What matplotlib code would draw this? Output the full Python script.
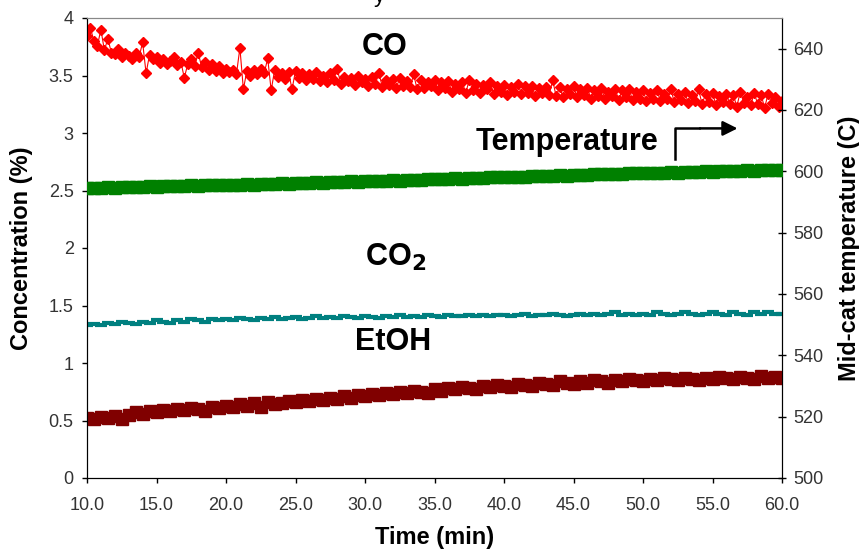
import matplotlib
matplotlib.use("Agg")
import matplotlib.pyplot as plt

plt.rcParams['font.family'] = ['Liberation Sans', 'DejaVu Sans']

# CO sampled every 0.25 min
time_co = [10.0, 10.25, 10.5, 10.75, 11.0, 11.25, 11.5, 11.75, 12.0, 12.25, 12.5, 12.75,
           13.0, 13.25, 13.5, 13.75, 14.0, 14.25, 14.5, 14.75, 15.0, 15.25, 15.5, 15.75,
           16.0, 16.25, 16.5, 16.75, 17.0, 17.25, 17.5, 17.75, 18.0, 18.25, 18.5, 18.75,
           19.0, 19.25, 19.5, 19.75, 20.0, 20.25, 20.5, 20.75, 21.0, 21.25, 21.5, 21.75,
           22.0, 22.25, 22.5, 22.75, 23.0, 23.25, 23.5, 23.75, 24.0, 24.25, 24.5, 24.75,
           25.0, 25.25, 25.5, 25.75, 26.0, 26.25, 26.5, 26.75, 27.0, 27.25, 27.5, 27.75,
           28.0, 28.25, 28.5, 28.75, 29.0, 29.25, 29.5, 29.75, 30.0, 30.25, 30.5, 30.75,
           31.0, 31.25, 31.5, 31.75, 32.0, 32.25, 32.5, 32.75, 33.0, 33.25, 33.5, 33.75,
           34.0, 34.25, 34.5, 34.75, 35.0, 35.25, 35.5, 35.75, 36.0, 36.25, 36.5, 36.75,
           37.0, 37.25, 37.5, 37.75, 38.0, 38.25, 38.5, 38.75, 39.0, 39.25, 39.5, 39.75,
           40.0, 40.25, 40.5, 40.75, 41.0, 41.25, 41.5, 41.75, 42.0, 42.25, 42.5, 42.75,
           43.0, 43.25, 43.5, 43.75, 44.0, 44.25, 44.5, 44.75, 45.0, 45.25, 45.5, 45.75,
           46.0, 46.25, 46.5, 46.75, 47.0, 47.25, 47.5, 47.75, 48.0, 48.25, 48.5, 48.75,
           49.0, 49.25, 49.5, 49.75, 50.0, 50.25, 50.5, 50.75, 51.0, 51.25, 51.5, 51.75,
           52.0, 52.25, 52.5, 52.75, 53.0, 53.25, 53.5, 53.75, 54.0, 54.25, 54.5, 54.75,
           55.0, 55.25, 55.5, 55.75, 56.0, 56.25, 56.5, 56.75, 57.0, 57.25, 57.5, 57.75,
           58.0, 58.25, 58.5, 58.75, 59.0, 59.25, 59.5, 59.75, 60.0]

co = [3.84, 3.91, 3.80, 3.76, 3.90, 3.72, 3.82, 3.70, 3.69, 3.73, 3.66, 3.70,
      3.67, 3.64, 3.70, 3.66, 3.79, 3.52, 3.68, 3.64, 3.66, 3.61, 3.64, 3.60,
      3.63, 3.66, 3.59, 3.62, 3.48, 3.60, 3.64, 3.58, 3.70, 3.57, 3.62, 3.55,
      3.60, 3.54, 3.58, 3.52, 3.56, 3.53, 3.55, 3.51, 3.74, 3.38, 3.54, 3.50,
      3.55, 3.51, 3.56, 3.52, 3.65, 3.37, 3.55, 3.49, 3.52, 3.47, 3.53, 3.38,
      3.54, 3.48, 3.52, 3.46, 3.51, 3.47, 3.53, 3.45, 3.50, 3.44, 3.52, 3.46,
      3.56, 3.43, 3.49, 3.45, 3.48, 3.42, 3.50, 3.44, 3.47, 3.41, 3.49, 3.43,
      3.52, 3.40, 3.46, 3.42, 3.47, 3.39, 3.48, 3.41, 3.45, 3.40, 3.51, 3.38,
      3.46, 3.39, 3.44, 3.41, 3.46, 3.37, 3.44, 3.39, 3.45, 3.36, 3.43, 3.38,
      3.44, 3.35, 3.46, 3.37, 3.43, 3.35, 3.42, 3.38, 3.44, 3.34, 3.41, 3.36,
      3.42, 3.33, 3.40, 3.36, 3.43, 3.34, 3.41, 3.35, 3.41, 3.32, 3.39, 3.35,
      3.40, 3.33, 3.46, 3.32, 3.40, 3.31, 3.38, 3.34, 3.41, 3.31, 3.38, 3.33,
      3.39, 3.30, 3.37, 3.32, 3.39, 3.30, 3.36, 3.32, 3.38, 3.29, 3.37, 3.31,
      3.38, 3.29, 3.36, 3.30, 3.37, 3.28, 3.35, 3.30, 3.37, 3.28, 3.34, 3.30,
      3.38, 3.27, 3.34, 3.29, 3.36, 3.26, 3.33, 3.28, 3.38, 3.25, 3.34, 3.27,
      3.35, 3.24, 3.32, 3.27, 3.34, 3.25, 3.33, 3.23, 3.36, 3.26, 3.31, 3.24,
      3.35, 3.25, 3.33, 3.22, 3.34, 3.26, 3.31, 3.23, 3.28]

# other signals sampled every 0.5 min
time_min = [10.0, 10.5, 11.0, 11.5, 12.0, 12.5, 13.0, 13.5, 14.0, 14.5,
            15.0, 15.5, 16.0, 16.5, 17.0, 17.5, 18.0, 18.5, 19.0, 19.5,
            20.0, 20.5, 21.0, 21.5, 22.0, 22.5, 23.0, 23.5, 24.0, 24.5,
            25.0, 25.5, 26.0, 26.5, 27.0, 27.5, 28.0, 28.5, 29.0, 29.5,
            30.0, 30.5, 31.0, 31.5, 32.0, 32.5, 33.0, 33.5, 34.0, 34.5,
            35.0, 35.5, 36.0, 36.5, 37.0, 37.5, 38.0, 38.5, 39.0, 39.5,
            40.0, 40.5, 41.0, 41.5, 42.0, 42.5, 43.0, 43.5, 44.0, 44.5,
            45.0, 45.5, 46.0, 46.5, 47.0, 47.5, 48.0, 48.5, 49.0, 49.5,
            50.0, 50.5, 51.0, 51.5, 52.0, 52.5, 53.0, 53.5, 54.0, 54.5,
            55.0, 55.5, 56.0, 56.5, 57.0, 57.5, 58.0, 58.5, 59.0, 59.5,
            60.0]

temperature = [594.6, 594.5, 594.7, 594.8, 594.6, 594.9, 594.8, 595.0, 594.9, 595.1,
               595.0, 595.2, 595.1, 595.3, 595.2, 595.4, 595.3, 595.5, 595.4, 595.6,
               595.5, 595.7, 595.6, 595.8, 595.7, 595.9, 595.8, 596.0, 596.1, 596.0,
               596.2, 596.1, 596.3, 596.4, 596.3, 596.5, 596.4, 596.6, 596.7, 596.6,
               596.8, 596.9, 596.8, 597.0, 597.1, 597.0, 597.2, 597.3, 597.2, 597.4,
               597.5, 597.4, 597.6, 597.7, 597.6, 597.8, 597.9, 597.8, 598.0, 598.1,
               598.0, 598.2, 598.3, 598.2, 598.4, 598.5, 598.4, 598.6, 598.7, 598.6,
               598.8, 598.9, 598.8, 599.0, 599.1, 599.0, 599.2, 599.1, 599.3, 599.4,
               599.3, 599.5, 599.4, 599.6, 599.7, 599.6, 599.8, 599.7, 599.9, 600.0,
               599.9, 600.1, 600.0, 600.2, 600.1, 600.3, 600.2, 600.4, 600.3, 600.5,
               600.4]

co2 = [1.33, 1.34, 1.33, 1.35, 1.34, 1.36, 1.35, 1.34, 1.36, 1.35,
       1.37, 1.36, 1.35, 1.37, 1.36, 1.38, 1.37, 1.36, 1.38, 1.37,
       1.38, 1.37, 1.39, 1.38, 1.37, 1.39, 1.38, 1.40, 1.38, 1.39,
       1.40, 1.38, 1.39, 1.41, 1.39, 1.40, 1.39, 1.41, 1.40, 1.39,
       1.41, 1.40, 1.39, 1.41, 1.40, 1.42, 1.40, 1.41, 1.40, 1.42,
       1.41, 1.40, 1.42, 1.41, 1.41, 1.42, 1.41, 1.42, 1.41, 1.42,
       1.42, 1.41, 1.42, 1.43, 1.41, 1.42, 1.42, 1.43, 1.42, 1.41,
       1.42, 1.43, 1.42, 1.43, 1.42, 1.43, 1.44, 1.42, 1.43, 1.42,
       1.43, 1.42, 1.44, 1.43, 1.42, 1.43, 1.44, 1.43, 1.42, 1.43,
       1.44, 1.43, 1.42, 1.44, 1.43, 1.42, 1.44, 1.43, 1.44, 1.43,
       1.43]

etoh = [0.52, 0.51, 0.53, 0.52, 0.54, 0.51, 0.55, 0.57, 0.56, 0.58,
        0.57, 0.59, 0.58, 0.60, 0.59, 0.61, 0.60, 0.58, 0.62, 0.61,
        0.63, 0.62, 0.64, 0.63, 0.65, 0.62, 0.66, 0.64, 0.65, 0.67,
        0.66, 0.68, 0.67, 0.69, 0.68, 0.70, 0.69, 0.71, 0.70, 0.72,
        0.71, 0.73, 0.72, 0.74, 0.73, 0.75, 0.74, 0.76, 0.75, 0.74,
        0.77, 0.76, 0.78, 0.77, 0.79, 0.78, 0.77, 0.80, 0.79, 0.81,
        0.80, 0.79, 0.82, 0.81, 0.80, 0.83, 0.82, 0.81, 0.84, 0.83,
        0.82, 0.84, 0.83, 0.85, 0.84, 0.83, 0.85, 0.84, 0.86, 0.85,
        0.84, 0.86, 0.85, 0.87, 0.86, 0.85, 0.87, 0.86, 0.85, 0.87,
        0.86, 0.88, 0.87, 0.86, 0.88, 0.87, 0.86, 0.89, 0.87, 0.88,
        0.87]

x_ticks = [10, 15, 20, 25, 30, 35, 40, 45, 50, 55, 60]
x_tick_labels = ["10.0", "15.0", "20.0", "25.0", "30.0", "35.0", "40.0", "45.0", "50.0", "55.0", "60.0"]
left_ticks = [0, 0.5, 1, 1.5, 2, 2.5, 3, 3.5, 4]
left_tick_labels = ["0", "0.5", "1", "1.5", "2", "2.5", "3", "3.5", "4"]
right_ticks = [500, 520, 540, 560, 580, 600, 620, 640]

fig = plt.figure(figsize=(8.59, 5.50), dpi=100)
ax = fig.add_axes([87/859, 1 - 478/550, (782-87)/859, (478-18)/550])
ax2 = ax.twinx()

ax.plot(time_co, co, color='#ff0000', marker='D', markersize=5.5, linewidth=0.8, zorder=3)
ax.plot(time_min, co2, color='#008080', marker='_', markersize=8, markeredgewidth=3, linewidth=1.2, zorder=3)
ax.plot(time_min, etoh, color='#800000', marker='s', markersize=8, linewidth=1.0, zorder=3)
ax2.plot(time_min, temperature, color='#008000', marker='s', markersize=8, linewidth=1.0, zorder=3)

ax.set_xlim(10, 60)
ax.set_ylim(0, 4)
ax2.set_ylim(500, 650)
ax.set_xticks(x_ticks)
ax.set_xticklabels(x_tick_labels)
ax.set_yticks(left_ticks)
ax.set_yticklabels(left_tick_labels)
ax2.set_yticks(right_ticks)

tick_color = '#333333'
ax.tick_params(axis='x', direction='out', length=3.6, width=1, labelsize=13, labelcolor=tick_color, pad=10)
ax.tick_params(axis='y', direction='out', length=3.6, width=1, labelsize=13, labelcolor=tick_color, pad=6)
ax2.tick_params(axis='y', direction='inout', length=6, width=1, labelsize=13, labelcolor=tick_color, pad=5)

for a in (ax, ax2):
    a.spines['top'].set_color('#888888')
    a.spines['left'].set_color('black')
    a.spines['right'].set_color('black')
    a.spines['bottom'].set_color('black')

ax.set_xlabel('Time (min)', fontsize=17, fontweight='bold')
ax.set_ylabel('Concentration (%)', fontsize=17, fontweight='bold')
ax2.set_ylabel('Mid-cat temperature (C)', fontsize=17, fontweight='bold')
ax.xaxis.set_label_coords(0.5, -0.105)
ax.yaxis.set_label_coords(-0.077, 0.5)
ax2.yaxis.set_label_coords(1.080, 0.5)

ax.text(31.4, 3.75, 'CO', fontsize=22, fontweight='bold', ha='center', va='center')
ax.text(44.5, 2.92, 'Temperature', fontsize=22, fontweight='bold', ha='center', va='center')
ax.text(32.2, 1.92, r'CO$_\mathbf{2}$', fontsize=22, fontweight='bold', ha='center', va='center')
ax.text(32.0, 1.18, 'EtOH', fontsize=22, fontweight='bold', ha='center', va='center')

# bent arrow pointing to right axis
ax.plot([52.3, 52.3, 54.0], [2.77, 3.04, 3.04], color='black', linewidth=1.8, zorder=4)
ax.annotate('', xy=(57.0, 3.04), xytext=(53.9, 3.04),
            arrowprops=dict(arrowstyle='-|>', color='black', lw=1.8, mutation_scale=22))

fig.text(379/859, 1 - 2/550, 'y', fontsize=16, ha='center', va='baseline')

fig.savefig('out.png', dpi=100)
